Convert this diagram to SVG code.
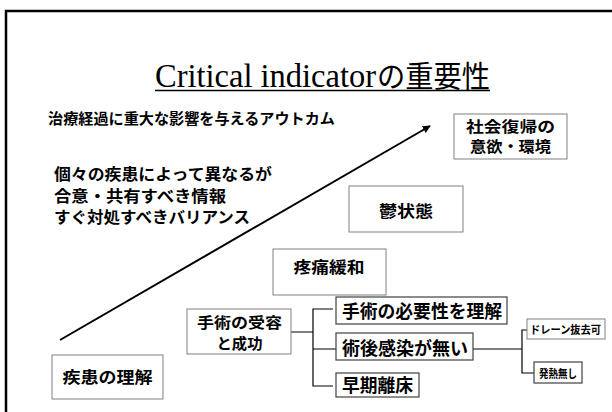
<svg xmlns="http://www.w3.org/2000/svg" width="612" height="412" viewBox="0 0 612 412">
<style>
.t{font-family:"Liberation Sans","Noto Sans CJK JP",sans-serif;font-weight:bold;fill:#000}
.box{fill:#fff;stroke:#808080;stroke-width:1}
.box2{fill:#fff;stroke:#404040;stroke-width:1.2}
.con{fill:none;stroke:#000;stroke-width:1.2}
</style>
<defs>
<marker id="ah" viewBox="0 0 10 10" refX="9" refY="5" markerWidth="4" markerHeight="4" orient="auto" markerUnits="strokeWidth">
<path d="M0,0 L10,5 L0,10 z" fill="#000"/>
</marker>
</defs>
<rect x="0" y="0" width="612" height="412" fill="#fff"/>
<rect x="6" y="11" width="620" height="420" fill="none" stroke="#000" stroke-width="2.5"/>
<g id="title">
<text x="155" y="87" textLength="221" lengthAdjust="spacingAndGlyphs" font-size="33" font-family="Liberation Serif, serif">Critical indicator</text>
<text x="377" y="87" textLength="113" lengthAdjust="spacingAndGlyphs" font-size="30" font-family="Noto Sans CJK JP, sans-serif">の重要性</text>
<line x1="155" y1="90.5" x2="490" y2="90.5" stroke="#000" stroke-width="1.5"/>
</g>
<g id="notes">
<text class="t" x="48" y="124" font-size="15" textLength="287" lengthAdjust="spacingAndGlyphs">治療経過に重大な影響を与えるアウトカム</text>
<text class="t" x="54" y="180" font-size="16" textLength="218" lengthAdjust="spacingAndGlyphs">個々の疾患によって異なるが</text>
<text class="t" x="54" y="202" font-size="16" textLength="172" lengthAdjust="spacingAndGlyphs">合意・共有すべき情報</text>
<text class="t" x="54" y="223" font-size="16" textLength="196" lengthAdjust="spacingAndGlyphs">すぐ対処すべきバリアンス</text>
</g>
<g id="connectors">
<line x1="60" y1="340" x2="430" y2="126" stroke="#000" stroke-width="2" marker-end="url(#ah)"/>
<path class="con" d="M291,332 H313 M333,309 H313 V386 H333 M313,349 H336"/>
<path class="con" d="M473,349 H522 M527,330 H522 V373 H534"/>
</g>
<g id="n-shakai">
<rect class="box" x="454" y="114" width="113" height="45"/>
<text class="t" x="510.5" y="132" font-size="15" text-anchor="middle" textLength="89" lengthAdjust="spacingAndGlyphs">社会復帰の</text>
<text class="t" x="510.5" y="152" font-size="15" text-anchor="middle" textLength="81" lengthAdjust="spacingAndGlyphs">意欲・環境</text>
</g>
<g id="n-utsu">
<rect class="box" x="349" y="186" width="114" height="46"/>
<text class="t" x="406" y="217" font-size="16" text-anchor="middle" textLength="54" lengthAdjust="spacingAndGlyphs">鬱状態</text>
</g>
<g id="n-totsu">
<rect class="box" x="273" y="249" width="113" height="46"/>
<text class="t" x="329" y="273" font-size="16" text-anchor="middle" textLength="71" lengthAdjust="spacingAndGlyphs">疼痛緩和</text>
</g>
<g id="n-shujutsu">
<rect class="box" x="187" y="309" width="104" height="45"/>
<text class="t" x="239.5" y="328" font-size="15" text-anchor="middle" textLength="85" lengthAdjust="spacingAndGlyphs">手術の受容</text>
<text class="t" x="239.5" y="349" font-size="15" text-anchor="middle" textLength="46" lengthAdjust="spacingAndGlyphs">と成功</text>
</g>
<g id="n-hitsuyo">
<rect class="box2" x="336" y="297" width="171" height="27"/>
<text class="t" x="342" y="318" font-size="18" textLength="160" lengthAdjust="spacingAndGlyphs">手術の必要性を理解</text>
</g>
<g id="n-kansen">
<rect class="box2" x="336" y="333" width="137" height="27"/>
<text class="t" x="342" y="355" font-size="18" textLength="126" lengthAdjust="spacingAndGlyphs">術後感染が無い</text>
</g>
<g id="n-risho">
<rect class="box2" x="336" y="373" width="83" height="24"/>
<text class="t" x="342" y="392" font-size="18" textLength="71" lengthAdjust="spacingAndGlyphs">早期離床</text>
</g>
<g id="n-drain">
<rect class="box" x="527" y="319" width="78" height="20"/>
<text class="t" x="530" y="334" font-size="11" textLength="71" lengthAdjust="spacingAndGlyphs">ドレーン抜去可</text>
</g>
<g id="n-hatsunetsu">
<rect class="box2" x="534" y="362" width="48" height="21"/>
<text class="t" x="539" y="377.5" font-size="11.5" textLength="38" lengthAdjust="spacingAndGlyphs">発熱無し</text>
</g>
<g id="n-shikkan">
<rect class="box" x="52" y="355" width="111" height="44"/>
<text class="t" x="107.5" y="383" font-size="16" text-anchor="middle" textLength="90" lengthAdjust="spacingAndGlyphs">疾患の理解</text>
</g>
</svg>
